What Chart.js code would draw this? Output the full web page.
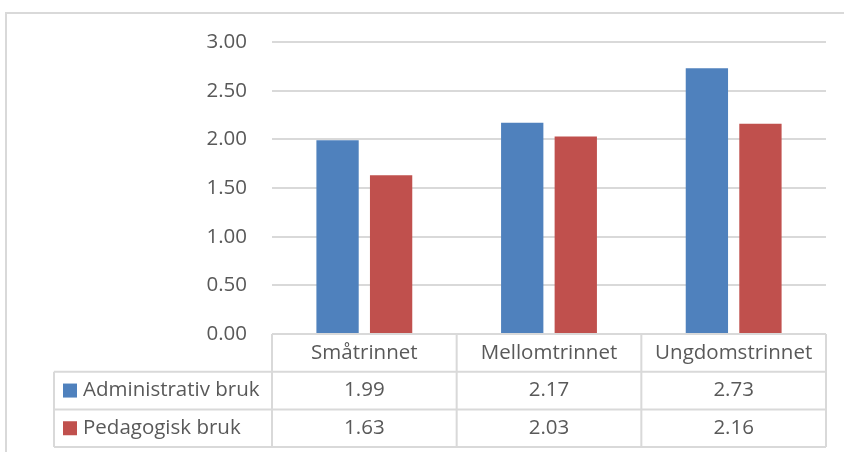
<!DOCTYPE html>
<html>
<head>
<meta charset="utf-8">
<script src="https://cdn.jsdelivr.net/npm/chart.js@4"></script>
<style>
  body { margin: 0; background: #fff; }
  #wrap { width: 844px; height: 452px; position: relative; }
</style>
</head>
<body>
<div id="wrap"><canvas id="bruk"></canvas></div>
<script>
const categories = ['Småtrinnet', 'Mellomtrinnet', 'Ungdomstrinnet'];
const seriesNames = ['Administrativ bruk', 'Pedagogisk bruk'];
const adminValues = [1.99, 2.17, 2.73];
const pedagogValues = [1.63, 2.03, 2.16];
const seriesColors = ['#4F81BD', '#C0504D'];

const textColor = '#595959';
const lineColor = '#D9D9D9';
const fontFamily = '"Open Sans", sans-serif';
const fontSize = 20.5;

// Outer frame of the chart object
const framePlugin = {
    id: 'frame',
    beforeDraw(chart) {
        const ctx = chart.ctx;
        ctx.save();
        ctx.strokeStyle = lineColor;
        ctx.lineWidth = 2;
        ctx.beginPath();
        ctx.moveTo(6, chart.height);
        ctx.lineTo(6, 13);
        ctx.lineTo(chart.width, 13);
        ctx.stroke();
        ctx.restore();
    }
};

// Data table under the plot, columns follow the category axis
const dataTablePlugin = {
    id: 'dataTable',
    afterDraw(chart) {
        const ctx = chart.ctx;
        const area = chart.chartArea;
        const xs = chart.scales.x;
        const n = categories.length;
        const colW = (area.right - area.left) / n;
        const rowH = 37.7;
        const top = area.bottom;
        const labelLeft = 54;
        const rows = chart.data.datasets;

        ctx.save();
        ctx.strokeStyle = lineColor;
        ctx.lineWidth = 2;
        ctx.beginPath();
        // header row
        ctx.moveTo(area.left, top);
        ctx.lineTo(area.right, top);
        // series rows
        for (let r = 1; r <= rows.length + 1; r++) {
            ctx.moveTo(labelLeft, top + r * rowH);
            ctx.lineTo(area.right, top + r * rowH);
        }
        ctx.moveTo(labelLeft, top + rowH);
        ctx.lineTo(labelLeft, top + (rows.length + 1) * rowH);
        for (let c = 0; c <= n; c++) {
            const x = area.left + c * colW;
            ctx.moveTo(x, top);
            ctx.lineTo(x, top + (rows.length + 1) * rowH);
        }
        ctx.stroke();

        ctx.fillStyle = textColor;
        ctx.font = fontSize + 'px ' + fontFamily;
        ctx.textBaseline = 'middle';
        ctx.textAlign = 'center';
        categories.forEach((cat, i) => {
            ctx.fillText(cat, xs.getPixelForValue(i), top + rowH / 2);
        });
        rows.forEach((ds, r) => {
            const y = top + (r + 1.5) * rowH;
            ctx.textAlign = 'center';
            ctx.fillStyle = textColor;
            ds.data.forEach((v, i) => {
                ctx.fillText(v.toFixed(2), xs.getPixelForValue(i), y);
            });
            // legend key
            ctx.fillStyle = ds.backgroundColor;
            ctx.fillRect(63, y - 7, 14, 14);
            ctx.fillStyle = textColor;
            ctx.textAlign = 'left';
            ctx.fillText(ds.label, 83, y);
        });
        ctx.restore();
    }
};

new Chart(document.getElementById('bruk'), {
    type: 'bar',
    data: {
        labels: categories,
        datasets: [
            { label: seriesNames[0], data: adminValues, backgroundColor: seriesColors[0] },
            { label: seriesNames[1], data: pedagogValues, backgroundColor: seriesColors[1] }
        ]
    },
    options: {
        responsive: true,
        maintainAspectRatio: false,
        animation: false,
        layout: {
            padding: { left: 0, right: 18, top: 42, bottom: 110 }
        },
        datasets: {
            bar: { categoryPercentage: 0.58, barPercentage: 0.79 }
        },
        scales: {
            x: {
                ticks: { display: false },
                grid: { display: false },
                border: { display: false }
            },
            y: {
                min: 0,
                max: 3,
                afterFit: s => { s.width = 272; },
                ticks: {
                    stepSize: 0.5,
                    padding: 25,
                    color: textColor,
                    font: { family: fontFamily, size: fontSize },
                    callback: v => v.toFixed(2)
                },
                grid: { color: lineColor, lineWidth: 2, drawTicks: false },
                border: { display: false }
            }
        },
        plugins: {
            legend: { display: false },
            tooltip: { enabled: false }
        }
    },
    plugins: [framePlugin, dataTablePlugin]
});
</script>
</body>
</html>
